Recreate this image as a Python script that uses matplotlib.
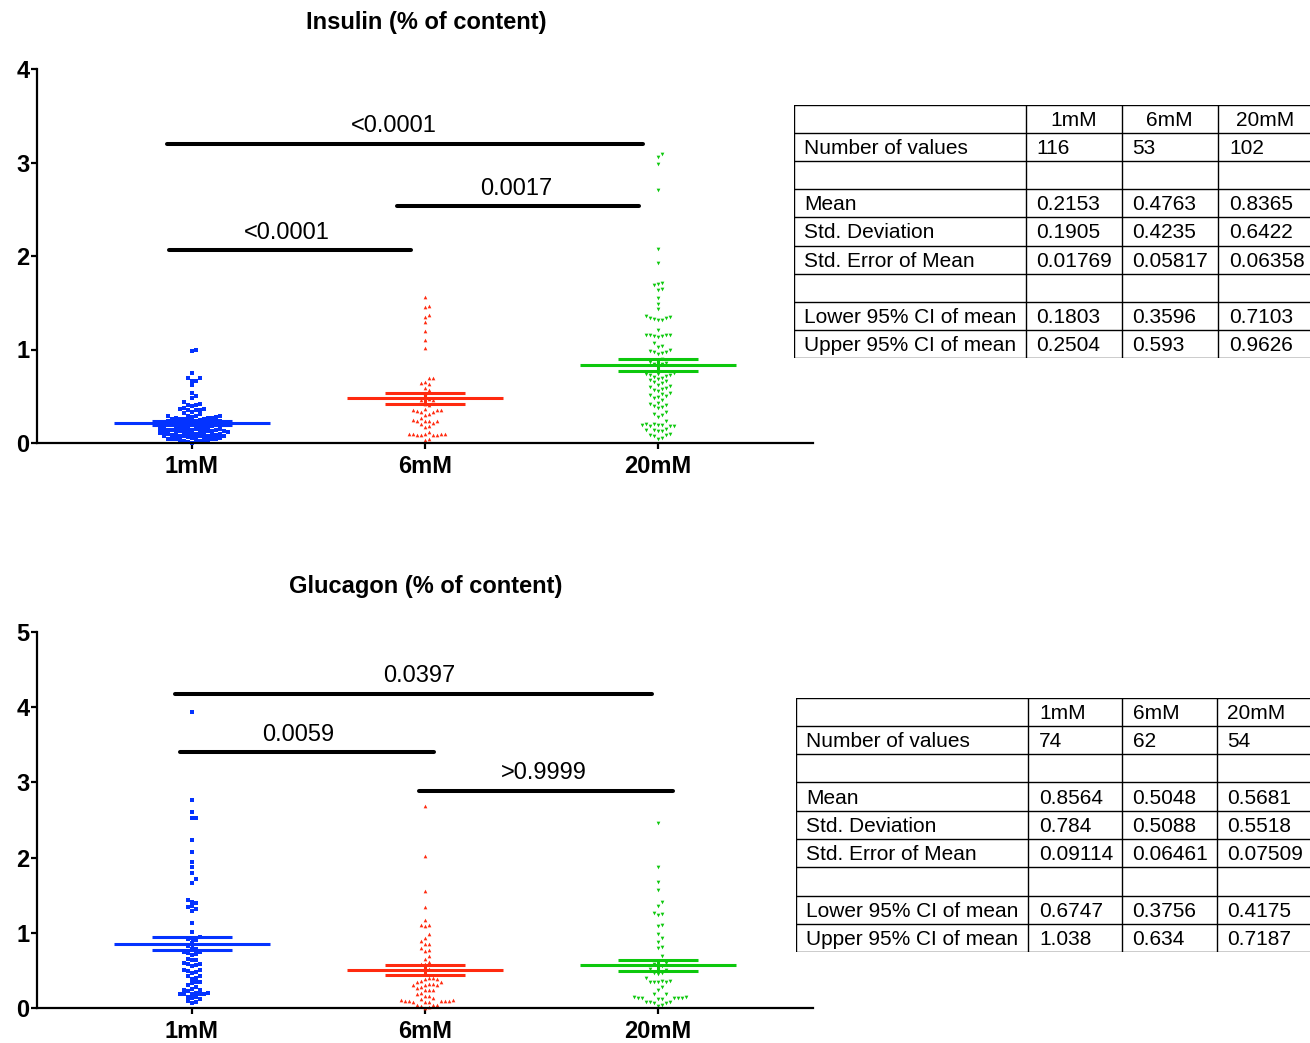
import numpy as np
import matplotlib
matplotlib.use('Agg')
import matplotlib.pyplot as plt

plt.rcParams['font.family'] = ['Liberation Sans', 'DejaVu Sans']

groups = ['1mM', '6mM', '20mM']

# insulin secretion, % of content
ins_1mM = [0.99, 0.98, 0.745, 0.69, 0.69, 0.665, 0.66, 0.615, 0.54, 0.50, 0.48, 0.435, 0.42,
           0.41, 0.405, 0.40, 0.37, 0.36, 0.36, 0.355, 0.35, 0.35, 0.33, 0.32, 0.31,
           0.29, 0.29, 0.285, 0.285, 0.28, 0.28,
           0.27, 0.265, 0.265, 0.26, 0.26, 0.26, 0.255,
           0.25, 0.245, 0.24, 0.24, 0.235, 0.23, 0.23, 0.225, 0.22, 0.22, 0.215, 0.21, 0.21,
           0.205, 0.2, 0.2, 0.195, 0.19,
           0.18, 0.175, 0.17, 0.17, 0.165, 0.165, 0.16, 0.16, 0.155, 0.155, 0.15, 0.15,
           0.14, 0.14, 0.135, 0.135, 0.13, 0.13, 0.125, 0.125, 0.125, 0.12, 0.12, 0.12,
           0.115, 0.115, 0.11, 0.11,
           0.10, 0.10, 0.095, 0.095, 0.09, 0.09, 0.085, 0.085, 0.08, 0.08, 0.08, 0.075,
           0.075, 0.07, 0.07,
           0.06, 0.055, 0.05, 0.05, 0.045, 0.045, 0.04, 0.04, 0.04, 0.035, 0.035, 0.03,
           0.02, 0.02, 0.015, 0.01, 0.005]
ins_6mM = [1.56, 1.46, 1.45, 1.37, 1.35, 1.29, 1.20, 1.10, 1.02, 0.69, 0.69, 0.65, 0.64,
           0.63, 0.59, 0.57, 0.53, 0.47, 0.465, 0.46, 0.42, 0.41, 0.36, 0.355, 0.35, 0.35,
           0.34, 0.335, 0.33, 0.305, 0.30, 0.27, 0.245, 0.24, 0.24, 0.235, 0.235, 0.21,
           0.205, 0.18, 0.17, 0.12, 0.10, 0.10, 0.095, 0.095, 0.095, 0.09, 0.09, 0.09,
           0.085, 0.045, 0.035]
ins_20mM = [3.09, 3.055, 2.98, 2.71, 2.08, 1.93, 1.71, 1.70, 1.69, 1.65, 1.64, 1.55, 1.49, 1.43,
            1.36, 1.35, 1.34, 1.34, 1.33, 1.32, 1.32, 1.21,
            1.16, 1.155, 1.15, 1.15, 1.145, 1.14, 1.13, 1.07, 1.04, 1.03,
            0.99, 0.98, 0.97, 0.97, 0.96, 0.95, 0.90, 0.89, 0.87, 0.86, 0.85, 0.84, 0.82,
            0.75, 0.74, 0.74, 0.73, 0.73, 0.72, 0.71, 0.70, 0.68, 0.67, 0.66, 0.65, 0.64, 0.62,
            0.61, 0.60, 0.59, 0.58, 0.57, 0.56, 0.53, 0.52, 0.51, 0.50, 0.49, 0.48, 0.46,
            0.43, 0.42, 0.41, 0.40, 0.39, 0.37, 0.33, 0.31, 0.30, 0.28, 0.235,
            0.20, 0.20, 0.19, 0.19, 0.19, 0.185, 0.18, 0.18,
            0.15, 0.14, 0.14, 0.13, 0.13, 0.10, 0.09, 0.09, 0.08, 0.05, 0.045]

# glucagon secretion, % of content
glu_1mM = [3.93, 2.77, 2.60, 2.52, 2.52, 2.24, 2.08, 1.94, 1.88, 1.80, 1.71, 1.66,
           1.43, 1.41, 1.40, 1.35, 1.34, 1.32, 1.29, 1.13, 1.01,
           0.95, 0.93, 0.92, 0.91, 0.87, 0.83, 0.79, 0.78,
           0.75, 0.74, 0.73, 0.72, 0.71, 0.65, 0.64, 0.64,
           0.60, 0.59, 0.58, 0.57, 0.56, 0.51, 0.50, 0.49, 0.48, 0.47,
           0.43, 0.42, 0.40, 0.39, 0.35, 0.34, 0.33, 0.30, 0.28,
           0.25, 0.24, 0.24, 0.23, 0.20, 0.20, 0.19, 0.19, 0.19, 0.18, 0.18,
           0.15, 0.14, 0.13, 0.12, 0.09, 0.08, 0.07]
glu_6mM = [2.68, 2.02, 1.55, 1.34, 1.17, 1.11, 1.10, 1.09, 0.99, 0.935, 0.89, 0.85, 0.85,
           0.80, 0.77, 0.76, 0.695, 0.655, 0.615, 0.59, 0.58, 0.52, 0.47,
           0.40, 0.40, 0.39, 0.39, 0.36, 0.35, 0.34, 0.32, 0.32, 0.31, 0.31, 0.30,
           0.28, 0.27, 0.245, 0.24, 0.235, 0.20, 0.19, 0.16, 0.155, 0.13, 0.125,
           0.10, 0.10, 0.095, 0.095, 0.09, 0.09, 0.09, 0.085, 0.085, 0.08,
           0.045, 0.04, 0.035, 0.03, 0.01, 0.005]
glu_20mM = [2.46, 1.88, 1.67, 1.565, 1.41, 1.36, 1.26, 1.25, 1.24, 1.11, 1.09, 0.98, 0.93,
            0.88, 0.81, 0.80, 0.69, 0.63, 0.60, 0.58, 0.56, 0.54, 0.52, 0.50,
            0.47, 0.46, 0.45, 0.40, 0.36, 0.355, 0.35, 0.35, 0.345, 0.34, 0.285, 0.24,
            0.19, 0.185, 0.14, 0.14, 0.135, 0.135, 0.13, 0.13, 0.13, 0.125, 0.125,
            0.08, 0.075, 0.075, 0.07, 0.07, 0.035, 0.03]

# descriptive statistics
ins_n = [116, 53, 102]
ins_mean = [0.2153, 0.4763, 0.8365]
ins_sd = [0.1905, 0.4235, 0.6422]
ins_sem = [0.01769, 0.05817, 0.06358]
ins_lo = [0.1803, 0.3596, 0.7103]
ins_hi = [0.2504, 0.593, 0.9626]

glu_n = [74, 62, 54]
glu_mean = [0.8564, 0.5048, 0.5681]
glu_sd = [0.784, 0.5088, 0.5518]
glu_sem = [0.09114, 0.06461, 0.07509]
glu_lo = [0.6747, 0.3756, 0.4175]
glu_hi = [1.038, 0.634, 0.7187]

# multiple comparison p values
ins_p = ['<0.0001', '0.0017', '<0.0001']
glu_p = ['0.0397', '0.0059', '>0.9999']

colors = ['#0433ff', '#ff2a0f', '#0dc80d']
markers = ['s', '^', 'v']
msize = [7, 7, 7]
row_gap = [4.0, 5.5, 5.5]   # vertical px within which points share a row

W, H = 1310, 1043
fig = plt.figure(figsize=(W / 100, H / 100), dpi=100)


def px_box(left, top, right, bottom):
    return [left / W, 1 - bottom / H, (right - left) / W, (bottom - top) / H]


def swarm_x(values, center, ax, gap, step=4.0):
    # simple beeswarm: push points sideways until they stop overlapping
    pos = ax.get_position()
    x0, x1 = ax.get_xlim()
    y0, y1 = ax.get_ylim()
    sx = pos.width * W / (x1 - x0)
    sy = pos.height * H / (y1 - y0)
    values = np.asarray(values)
    xs = np.zeros(len(values))
    placed = []
    for i in np.argsort(values):
        y = values[i] * sy
        near = [p for p, q in placed if abs(q - y) < gap]
        k = 0
        while True:
            off = ((k + 1) // 2) * (1 if k % 2 else -1) * step
            if all(abs(off - p) >= step - 1e-6 for p in near):
                break
            k += 1
        placed.append((off, y))
        xs[i] = center + off / sx
    return xs


def dot_plot(ax, data, means, sems, ymax):
    ax.set_xlim(0.335, 3.665)
    ax.set_ylim(0, ymax)
    for i, vals in enumerate(data):
        c = i + 1
        xs = swarm_x(vals, c, ax, row_gap[i])
        ax.scatter(xs, vals, s=msize[i], marker=markers[i], color=colors[i],
                   linewidths=0, zorder=2, clip_on=False)
        m, e = means[i], sems[i]
        ax.hlines(m, c - 0.335, c + 0.335, color=colors[i], lw=2.2, zorder=3)
        ax.hlines([m - e, m + e], c - 0.17, c + 0.17, color=colors[i], lw=2.2, zorder=3)
        ax.vlines(c, m - e, m + e, color=colors[i], lw=2.2, zorder=3)
    for s in ['top', 'right']:
        ax.spines[s].set_visible(False)
    for s in ['left', 'bottom']:
        ax.spines[s].set_linewidth(1.6)
    ax.set_xticks([1, 2, 3])
    ax.set_xticklabels(groups)
    ax.set_yticks(range(ymax + 1))
    ax.tick_params(axis='x', length=4.5, width=1.6, pad=4, labelsize=17)
    ax.tick_params(axis='y', length=4, width=1.6, pad=1.5, labelsize=17)
    for lab in ax.get_xticklabels() + ax.get_yticklabels():
        lab.set_fontweight('bold')


def sig_bar(ax, x1, x2, y, label, xt):
    ax.plot([x1, x2], [y, y], color='black', lw=2.9, solid_capstyle='round', clip_on=False)
    ax.annotate(label, xy=(xt, y), xytext=(0, 8.5), textcoords='offset points',
                ha='center', va='baseline', fontsize=17)


def draw_table(left, top, row_h, col_edges, rows, center_head):
    width = 600
    tab = fig.add_axes(px_box(left, top, left + width, top + row_h * len(rows)))
    tab.set_xlim(0, width)
    tab.set_ylim(row_h * len(rows), 0)
    tab.axis('off')
    for r in range(len(rows) + 1):
        tab.plot([0, width], [r * row_h, r * row_h], color='black', lw=1.0)
    for cx in col_edges:
        tab.plot([cx, cx], [0, row_h * len(rows)], color='black', lw=1.0)
    for r, row in enumerate(rows):
        yb = (r + 1) * row_h - 7
        for j, txt in enumerate(row):
            if r == 0 and j > 0 and center_head:
                xc = (col_edges[j] + col_edges[j + 1]) / 2
                tab.text(xc, yb, txt, ha='center', va='baseline', fontsize=15)
            else:
                pad = 10 if j == 0 else 11
                tab.text(col_edges[j] + pad, yb, str(txt), ha='left', va='baseline', fontsize=15)


def stat_rows(n, mean, sd, sem, lo, hi):
    return [[''] + groups,
            ['Number of values'] + n,
            ['', '', '', ''],
            ['Mean'] + mean,
            ['Std. Deviation'] + sd,
            ['Std. Error of Mean'] + sem,
            ['', '', '', ''],
            ['Lower 95% CI of mean'] + lo,
            ['Upper 95% CI of mean'] + hi]


# insulin panel
ax1 = fig.add_axes(px_box(37, 69, 813, 443))
dot_plot(ax1, [ins_1mM, ins_6mM, ins_20mM], ins_mean, ins_sem, 4)
sig_bar(ax1, 0.893, 2.936, 3.2, ins_p[0], 1.867)
sig_bar(ax1, 1.88, 2.918, 2.53, ins_p[1], 2.39)
sig_bar(ax1, 0.901, 1.94, 2.06, ins_p[2], 1.408)
fig.text(426 / W, 1 - 22 / H, 'Insulin (% of content)', ha='center', va='center',
         fontsize=17, fontweight='bold')

# glucagon panel
ax2 = fig.add_axes(px_box(37, 632, 813, 1008))
dot_plot(ax2, [glu_1mM, glu_6mM, glu_20mM], glu_mean, glu_sem, 5)
sig_bar(ax2, 0.927, 2.974, 4.18, glu_p[0], 1.974)
sig_bar(ax2, 0.948, 2.039, 3.40, glu_p[1], 1.455)
sig_bar(ax2, 1.974, 3.064, 2.89, glu_p[2], 2.51)
fig.text(426 / W, 1 - 586 / H, 'Glucagon (% of content)', ha='center', va='center',
         fontsize=17, fontweight='bold')

draw_table(794, 105, 28.1, [0, 231.5, 327.5, 424, 519],
           stat_rows(ins_n, ins_mean, ins_sd, ins_sem, ins_lo, ins_hi), True)
draw_table(796, 697.5, 28.3, [0, 232, 325.5, 420.5, 516],
           stat_rows(glu_n, glu_mean, glu_sd, glu_sem, glu_lo, glu_hi), False)

fig.savefig('out.png', dpi=100)
